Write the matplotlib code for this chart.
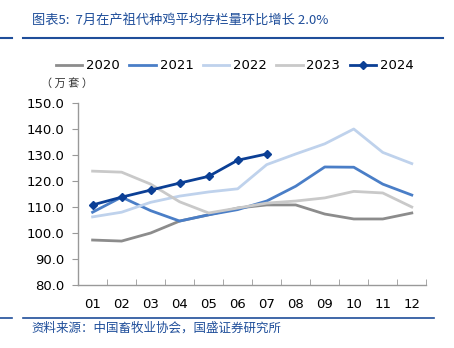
import matplotlib.pyplot as plt
import numpy as np

plt.rcParams['font.family'] = ['DejaVu Sans', 'Noto Sans CJK SC']

months = ['01', '02', '03', '04', '05', '06', '07', '08', '09', '10', '11', '12']
y2020 = [97.3, 96.9, 100.0, 104.6, 107.0, 109.6, 110.8, 110.8, 107.3, 105.4, 105.4, 107.7]
y2021 = [108.0, 113.8, 108.6, 104.6, 107.0, 109.0, 112.3, 118.0, 125.4, 125.3, 118.8, 114.6]
y2022 = [106.2, 108.0, 111.8, 114.2, 115.8, 117.0, 126.3, 130.4, 134.3, 140.0, 131.0, 126.7]
y2023 = [123.8, 123.4, 118.8, 112.0, 107.7, 109.6, 111.5, 112.3, 113.5, 116.0, 115.4, 110.0]
y2024 = [110.8, 113.8, 116.5, 119.2, 121.8, 128.0, 130.4]

fig = plt.figure(figsize=(4.54, 3.48), dpi=100)
ax = fig.add_axes([0.172, 0.181, 0.767, 0.523])

x = np.arange(len(months))
ax.plot(x, y2020, color='#8C8C8C', lw=2.0, label='2020')
ax.plot(x, y2021, color='#4A7EC7', lw=2.0, label='2021')
ax.plot(x, y2022, color='#BFD2EC', lw=2.0, label='2022')
ax.plot(x, y2023, color='#C9C9C9', lw=2.0, label='2023')
ax.plot(x[:len(y2024)], y2024, color='#0B3F95', lw=2.0, marker='D', ms=4.5, label='2024')

ax.set_xlim(-0.5, 11.5)
ax.set_ylim(80, 150)
ax.set_yticks(np.arange(80, 151, 10))
ax.set_yticklabels([f'{v:.1f}' for v in np.arange(80, 151, 10)], fontsize=9.5)
ax.set_xticks(x)
ax.set_xticklabels(months, fontsize=9.5)
ax.set_xticks(np.arange(-0.5, 12, 1), minor=True)
ax.tick_params(axis='x', which='major', length=0, pad=9)
ax.tick_params(axis='x', which='minor', direction='in', length=4, color='#999999')
ax.tick_params(axis='y', direction='out', length=4, color='#999999', pad=6)
for s in ['top', 'right']:
    ax.spines[s].set_visible(False)
for s in ['left', 'bottom']:
    ax.spines[s].set_color('#999999')
    ax.spines[s].set_linewidth(1.0)

ax.legend(loc='center', bbox_to_anchor=(0.45, 1.205), ncol=5, frameon=False,
          fontsize=9.5, handlelength=2.0, columnspacing=0.7, handletextpad=0.3)

fig.text(0.09, 0.759, '（ 万 套 ）', fontsize=8, va='center',
         family=['Noto Sans CJK SC'], color='#333333')

fig.text(0.07, 0.942, '图表5:  7月在产祖代种鸡平均存栏量环比增长 2.0%', fontsize=9.5,
         va='center', color='#1F4E9A', style='italic',
         family=['Noto Sans CJK SC', 'DejaVu Sans'])
fig.add_artist(plt.Line2D([0.0, 0.027], [0.89, 0.89], color='#1F4E9A', lw=1.5))
fig.add_artist(plt.Line2D([0.05, 0.976], [0.89, 0.89], color='#1F4E9A', lw=1.5))

fig.add_artist(plt.Line2D([0.0, 0.027], [0.086, 0.086], color='#1F4E9A', lw=1.2))
fig.add_artist(plt.Line2D([0.05, 0.955], [0.086, 0.086], color='#1F4E9A', lw=1.2))
fig.text(0.07, 0.057, '资料来源：中国畜牧业协会，国盛证券研究所', fontsize=9,
         va='center', color='#1F4E9A', style='italic',
         family=['Noto Sans CJK SC', 'DejaVu Sans'])

fig.savefig('out.png', dpi=100)
